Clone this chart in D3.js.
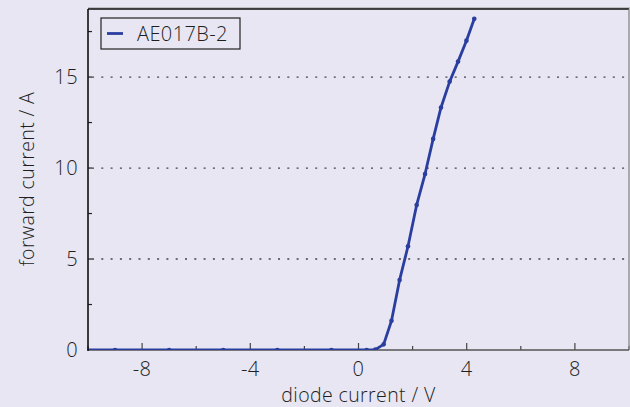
<!DOCTYPE html>
<html lang="en">
  <head>
    <meta charset="UTF-8" />
    <title>Forward current</title>
    <style>
      body { margin: 0; background: #e7e6f2; }
      text { font-family: "Open Sans", "Noto Sans", sans-serif; font-weight: 300; fill: #1e1e1e; letter-spacing: 0.4px; }
    </style>
  </head>
  <body>
    <svg id="svg" width="630" height="407"></svg>

    <script src="https://cdn.jsdelivr.net/npm/d3@7"></script>
    <script>
      // measured points, voltage (V) vs current (A)
      const voltage = [-11, -9, -7, -5, -3, -1, 0.3, 0.62, 0.93, 1.22, 1.52, 1.83, 2.15, 2.46, 2.76, 3.05, 3.37, 3.68, 3.99, 4.28];
      const current = [0, 0, 0, 0, 0, 0, 0, 0.02, 0.31, 1.61, 3.85, 5.7, 7.97, 9.67, 11.6, 13.33, 14.75, 15.85, 17.0, 18.2];
      const xTicks = [-8, -4, 0, 4, 8];
      const xMinor = [-10, -6, -2, 2, 6, 10];
      const yTicks = [0, 5, 10, 15];
      const yMinor = [2.5, 7.5, 12.5, 17.5];
      const seriesName = "AE017B-2";

      const data = voltage.map((v, i) => ({ x: v, y: current[i] }));
      const blue = "#2a3ea0";

      const pL = 88, pR = 629, pT = 9, pB = 350;
      const x = d3.scaleLinear().domain([-10, 10]).range([pL, pR]);
      const y = d3.scaleLinear().domain([0, 18.74]).range([pB, pT]);

      const svg = d3.select("#svg");

      svg.append("defs").append("clipPath").attr("id", "clip")
        .append("rect").attr("x", pL).attr("y", pT)
        .attr("width", pR - pL).attr("height", pB - pT);

      // dotted grid
      svg.append("g").selectAll("line").data(yTicks.filter((d) => d > 0)).enter()
        .append("line")
        .attr("x1", pL + 4).attr("x2", pR)
        .attr("y1", (d) => y(d)).attr("y2", (d) => y(d))
        .attr("stroke", "#444").attr("stroke-width", 1.3)
        .attr("stroke-dasharray", "2,7.3");

      // ticks inside the frame
      svg.append("g").selectAll("line").data(yTicks.filter((d) => d > 0)).enter()
        .append("line")
        .attr("x1", pL).attr("x2", pL + 4)
        .attr("y1", (d) => y(d)).attr("y2", (d) => y(d))
        .attr("stroke", "#222").attr("stroke-width", 1.2);
      svg.append("g").selectAll("line").data(yMinor).enter()
        .append("line")
        .attr("x1", pL).attr("x2", pL + 4)
        .attr("y1", (d) => y(d)).attr("y2", (d) => y(d))
        .attr("stroke", "#222").attr("stroke-width", 1.2);
      svg.append("g").selectAll("line").data(xTicks).enter()
        .append("line")
        .attr("x1", (d) => x(d)).attr("x2", (d) => x(d))
        .attr("y1", pB).attr("y2", pB - 7)
        .attr("stroke", "#444").attr("stroke-width", 1.2);
      svg.append("g").selectAll("line").data(xMinor).enter()
        .append("line")
        .attr("x1", (d) => x(d)).attr("x2", (d) => x(d))
        .attr("y1", pB).attr("y2", pB - 4)
        .attr("stroke", "#444").attr("stroke-width", 1.2);

      // frame
      svg.append("line").attr("x1", pL).attr("x2", pR + 1).attr("y1", pT - 1).attr("y2", pT - 1)
        .attr("stroke", "#999").attr("stroke-width", 1);
      svg.append("line").attr("x1", pL).attr("x2", pR).attr("y1", pT).attr("y2", pT)
        .attr("stroke", "#111").attr("stroke-width", 1.3);
      svg.append("line").attr("x1", pR).attr("x2", pR).attr("y1", pT).attr("y2", pB)
        .attr("stroke", "#888").attr("stroke-width", 1.3);
      svg.append("line").attr("x1", pL).attr("x2", pR).attr("y1", pB).attr("y2", pB)
        .attr("stroke", "#555").attr("stroke-width", 1.6);

      // series
      const plot = svg.append("g").attr("clip-path", "url(#clip)");
      plot.append("path").datum(data)
        .attr("d", d3.line().x((d) => x(d.x)).y((d) => y(d.y)))
        .attr("fill", "none").attr("stroke", blue).attr("stroke-width", 2.8)
        .attr("stroke-linejoin", "round");
      plot.selectAll("circle").data(data).enter()
        .append("circle")
        .attr("cx", (d) => x(d.x)).attr("cy", (d) => y(d.y))
        .attr("r", 2.3).attr("fill", blue);

      svg.append("line").attr("x1", pL).attr("x2", pL).attr("y1", pT).attr("y2", pB + 1)
        .attr("stroke", "#111").attr("stroke-width", 1.6);

      // tick labels
      svg.append("g").selectAll("text").data(yTicks).enter()
        .append("text")
        .attr("x", pL - 10).attr("y", (d) => y(d) + 7)
        .attr("text-anchor", "end").attr("font-size", 20)
        .text((d) => d);
      svg.append("g").selectAll("text").data(xTicks).enter()
        .append("text")
        .attr("x", (d) => x(d)).attr("y", pB + 26)
        .attr("text-anchor", "middle").attr("font-size", 20)
        .text((d) => (d < 0 ? "-" + Math.abs(d) : d));

      // axis titles
      svg.append("text")
        .attr("x", x(0)).attr("y", 402)
        .attr("text-anchor", "middle").attr("font-size", 19.5)
        .text("diode current / V");
      svg.append("text")
        .attr("transform", "translate(34,179) rotate(-90)")
        .attr("text-anchor", "middle").attr("font-size", 19.5)
        .text("forward current / A");

      // legend
      const lg = svg.append("g").attr("transform", "translate(101,18)");
      lg.append("rect").attr("width", 139).attr("height", 31)
        .attr("fill", "#e7e6f2").attr("stroke", "#222").attr("stroke-width", 1.2);
      lg.append("line").attr("x1", 6).attr("x2", 22).attr("y1", 15.5).attr("y2", 15.5)
        .attr("stroke", blue).attr("stroke-width", 2.8);
      lg.append("text").attr("x", 36).attr("y", 23).attr("font-size", 20)
        .text(seriesName);
    </script>
  </body>
</html>
